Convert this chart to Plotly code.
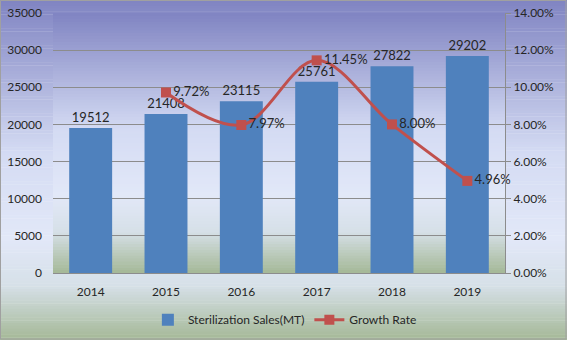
import plotly.graph_objects as go

years = ["2014", "2015", "2016", "2017", "2018", "2019"]
sales = [19512, 21408, 23115, 25761, 27822, 29202]
growth_years = ["2015", "2016", "2017", "2018", "2019"]
growth = [0.0972, 0.0797, 0.1145, 0.0800, 0.0496]

W, H = 567, 340
ML, MR, MT, MB = 53, 62, 13, 67
PW, PH = W - ML - MR, H - MT - MB

FONT = dict(family="Lato", size=12, color="#262626")
BAR = "#4f81bd"
LINE = "#c0504d"
GRID = "#8c8c8c"

stops = [
    (0.0, (128, 132, 194)),
    (0.45, (212, 219, 243)),
    (0.70, (226, 232, 248)),
    (0.84, (214, 224, 232)),
    (1.0, (164, 184, 150)),
]


def col_at(f):
    for (a, ca), (b, cb) in zip(stops, stops[1:]):
        if a <= f <= b:
            t = (f - a) / (b - a) if b > a else 0
            c = [round(ca[i] + (cb[i] - ca[i]) * t) for i in range(3)]
            return "rgb(%d,%d,%d)" % tuple(c)
    return "rgb(%d,%d,%d)" % stops[-1][1]


def gradient(x0, x1, ytop, ybot, n=90):
    out = []
    step = (ybot - ytop) / n
    for k in range(n):
        ya = ytop + step * k
        yb = ytop + step * (k + 1.15)
        out.append(dict(type="rect", xref="paper", yref="paper",
                        x0=x0, x1=x1, y0=yb, y1=ya,
                        fillcolor=col_at((k + 0.5) / n), line=dict(width=0),
                        layer="below"))
    return out


fx0 = -ML / PW
fx1 = 1 + MR / PW
fy_top = 1 + MT / PH
fy_bot = -MB / PH

shapes = []
shapes += gradient(fx0, fx1, fy_top, fy_bot, 120)
shapes += gradient(0, 1, 1, 0, 90)
shapes.append(dict(type="rect", xref="paper", yref="paper",
                   x0=fx0 + 0.5 / PW, x1=fx1 - 1 / PW, y0=fy_bot + 1 / PH, y1=fy_top - 0.5 / PH,
                   line=dict(color="#a0a0a0", width=1), fillcolor="rgba(0,0,0,0)",
                   layer="below"))

fig = go.Figure()
fig.add_trace(go.Bar(
    x=years, y=sales, name="Sterilization Sales(MT)",
    marker=dict(color=BAR, line=dict(width=0)),
    texttemplate="%{y:.0f}", textposition="outside",
    textfont=dict(family="Lato", size=13, color="#262626"),
    cliponaxis=False,
))
fig.add_trace(go.Scatter(
    x=growth_years, y=growth, name="Growth Rate", yaxis="y2",
    mode="lines+markers+text",
    line=dict(color=LINE, width=3, shape="spline", smoothing=1),
    marker=dict(symbol="square", size=10, color=LINE),
    texttemplate="%{y:.2%}", textposition="middle right",
    textfont=dict(family="Lato", size=13, color="#262626"),
    cliponaxis=False,
))

fig.update_layout(
    width=W, height=H,
    margin=dict(l=ML, r=MR, t=MT, b=MB, pad=0, autoexpand=False),
    paper_bgcolor="rgba(0,0,0,0)", plot_bgcolor="rgba(0,0,0,0)",
    font=FONT,
    bargap=0.43,
    shapes=shapes,
    showlegend=True,
    legend=dict(orientation="h", x=0.513, xanchor="center", y=-0.18, yanchor="middle",
                bgcolor="rgba(0,0,0,0)", font=FONT, itemwidth=30,
                traceorder="normal"),
    xaxis=dict(type="category", showgrid=False, showline=True, linecolor=GRID,
               linewidth=1, ticks="", tickfont=FONT, ticklabelstandoff=8,
               automargin=False),
    yaxis=dict(range=[0, 35000], dtick=5000, tickformat="d", showgrid=True,
               gridcolor=GRID, gridwidth=1, zeroline=False, showline=False,
               ticks="", tickfont=FONT, ticklabelstandoff=10, automargin=False),
    yaxis2=dict(range=[0, 0.14], dtick=0.02, tickformat=".2%", overlaying="y",
                side="right", showgrid=False, zeroline=False, showline=True,
                linecolor=GRID, linewidth=1, ticks="outside", ticklen=5,
                tickcolor=GRID, tickfont=FONT, automargin=False),
)

fig.write_html("out.html")
